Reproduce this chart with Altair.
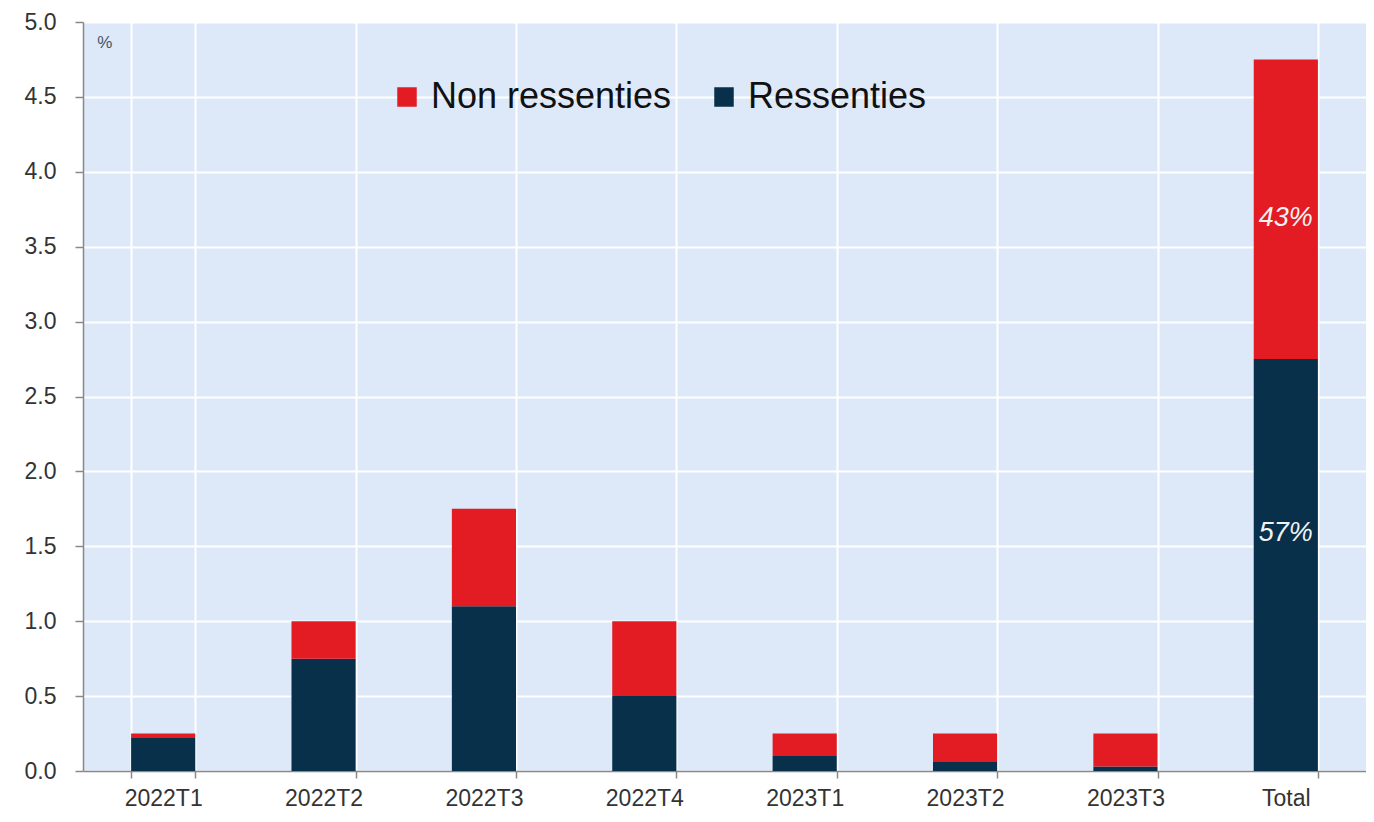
import altair as alt
import pandas as pd

categories = ["2022T1", "2022T2", "2022T3", "2022T4", "2023T1", "2023T2", "2023T3", "Total"]
ressenties = [0.22, 0.75, 1.10, 0.50, 0.10, 0.06, 0.03, 2.75]
non_ressenties = [0.03, 0.25, 0.65, 0.50, 0.15, 0.19, 0.22, 2.00]
series_names = ["Non ressenties", "Ressenties"]
series_colors = ["#e31b23", "#08304b"]
y_ticks = [0.0, 0.5, 1.0, 1.5, 2.0, 2.5, 3.0, 3.5, 4.0, 4.5, 5.0]

share_labels = ["43%", "57%"]
share_values = [3.69, 1.59]
share_cat = ["Total", "Total"]

rows = []
for c, r, n in zip(categories, ressenties, non_ressenties):
    rows.append({"cat": c, "series": "Ressenties", "value": r, "ord": 0})
    rows.append({"cat": c, "series": "Non ressenties", "value": n, "ord": 1})
df = pd.DataFrame(rows)
lab_df = pd.DataFrame({"cat": share_cat, "value": share_values, "label": share_labels})
unit_df = pd.DataFrame({"cat": ["2022T1"], "value": [4.86], "label": ["%"]})

FONT = "Liberation Sans"

x_enc = alt.X(
    "cat:N", sort=categories, title=None,
    scale=alt.Scale(paddingInner=0.6, paddingOuter=0.3),
    axis=alt.Axis(
        tickBand="extent", labelAngle=0, labelFontSize=23, labelFont=FONT,
        labelColor="#333333", tickColor="#888888", domainColor="#888888",
        tickSize=7, labelPadding=9, gridColor="white", gridWidth=2,
        domainWidth=1.5, tickWidth=1.5,
    ),
)
y_scale = alt.Scale(domain=[0, 5], nice=False)

bars = alt.Chart(df).mark_bar().encode(
    x=x_enc,
    y=alt.Y(
        "value:Q", stack="zero", scale=y_scale, title=None,
        axis=alt.Axis(
            values=y_ticks, format=".1f", labelFontSize=23, labelFont=FONT,
            labelColor="#333333", tickColor="#888888", domainColor="#888888",
            tickSize=8, labelPadding=19, gridColor="white", gridWidth=2,
            domainWidth=1.5, tickWidth=1.5,
        ),
    ),
    color=alt.Color(
        "series:N",
        scale=alt.Scale(domain=series_names, range=series_colors),
        legend=alt.Legend(
            title=None, orient="none", legendX=306, legendY=57, direction="horizontal",
            symbolType="square", symbolSize=380, symbolStrokeWidth=0,
            labelFontSize=36, labelFont=FONT, labelColor="#111111", labelLimit=0,
            labelOffset=6, columnPadding=34, symbolOpacity=1,
        ),
    ),
    order=alt.Order("ord:Q"),
)

labels = alt.Chart(lab_df).mark_text(
    font=FONT, fontSize=27, fontStyle="italic", color="#f2f2f2", align="center", baseline="middle"
).encode(
    x=alt.X("cat:N", sort=categories),
    y=alt.Y("value:Q", scale=y_scale),
    text="label:N",
)

unit = alt.Chart(unit_df).mark_text(
    font=FONT, fontSize=17, color="#445566", align="left", baseline="middle", dx=-66
).encode(
    x=alt.X("cat:N", sort=categories),
    y=alt.Y("value:Q", scale=y_scale),
    text="label:N",
)

chart = alt.layer(bars, labels, unit).properties(
    width=1283, height=749,
    autosize=alt.AutoSizeParams(type="none"),
    padding={"left": 75, "top": 14, "right": 0, "bottom": 38},
).configure_view(
    fill="#dde9f8", stroke=None
).configure_axis(
    grid=True
)

chart.save("out.html", embed_options={"renderer": "svg", "actions": False})
